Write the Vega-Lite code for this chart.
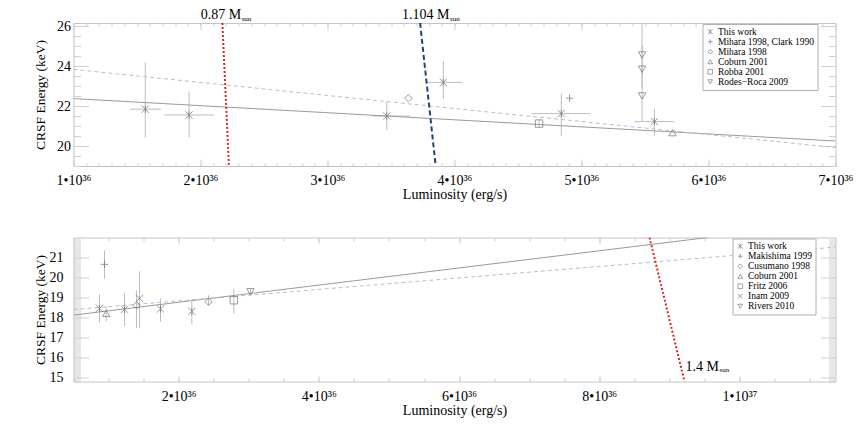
{
  "$schema": "https://vega.github.io/schema/vega-lite/v6.json",
  "padding": {"left": 32.5, "top": 7, "right": 5, "bottom": 5},
  "background": "white",
  "spacing": 34.5,
  "datasets": {
    "top_pts": [
      {"series": "This work", "x": 1.565, "y": 21.84, "xlo": 1.445, "xhi": 1.688, "ylo": 20.42, "yhi": 24.18},
      {"series": "This work", "x": 1.91, "y": 21.55, "xlo": 1.714, "xhi": 2.107, "ylo": 20.42, "yhi": 22.72},
      {"series": "This work", "x": 3.467, "y": 21.5, "xlo": 3.347, "xhi": 3.651, "ylo": 20.8, "yhi": 22.22},
      {"series": "This work", "x": 3.912, "y": 23.18, "xlo": 3.77, "xhi": 4.06, "ylo": 22.34, "yhi": 24.26},
      {"series": "This work", "x": 4.841, "y": 21.62, "xlo": 4.61, "xhi": 5.07, "ylo": 20.49, "yhi": 22.62},
      {"series": "This work", "x": 5.574, "y": 21.22, "xlo": 5.417, "xhi": 5.73, "ylo": 20.49, "yhi": 21.84},
      {"series": "Mihara 1998, Clark 1990", "x": 4.906, "y": 22.39},
      {"series": "Mihara 1998", "x": 3.637, "y": 22.39},
      {"series": "Coburn 2001", "x": 5.717, "y": 20.67},
      {"series": "Robba 2001", "x": 4.666, "y": 21.12, "ylo": 20.95, "yhi": 21.3},
      {"series": "Rodes−Roca 2009", "x": 5.477, "y": 24.55, "ylo": 23.6, "yhi": 26.15},
      {"series": "Rodes−Roca 2009", "x": 5.477, "y": 23.84, "ylo": 22.9, "yhi": 25.0},
      {"series": "Rodes−Roca 2009", "x": 5.477, "y": 22.5, "ylo": 21.2, "yhi": 23.8}
    ],
    "top_lines": [
      {"id": "fit", "x": 1, "y": 22.37}, {"id": "fit", "x": 7, "y": 20.25},
      {"id": "prev", "x": 1, "y": 23.83}, {"id": "prev", "x": 7, "y": 19.92},
      {"id": "m087", "x": 2.172, "y": 26.15}, {"id": "m087", "x": 2.224, "y": 19},
      {"id": "m1104", "x": 3.729, "y": 26.15}, {"id": "m1104", "x": 3.852, "y": 19}
    ],
    "top_lbl": [
      {"x": 2.32, "y": 26.15, "t": "0.87 M", "s": "sun"},
      {"x": 3.96, "y": 26.15, "t": "1.104 M", "s": "sun"}
    ],
    "bot_pts": [
      {"series": "This work", "x": 0.871, "y": 18.45, "ylo": 17.75, "yhi": 19.15},
      {"series": "Makishima 1999", "x": 0.942, "y": 20.64, "ylo": 19.93, "yhi": 21.33},
      {"series": "Coburn 2001", "x": 0.966, "y": 18.2, "ylo": 17.8, "yhi": 18.55},
      {"series": "This work", "x": 1.228, "y": 18.4, "ylo": 17.55, "yhi": 19.2},
      {"series": "Cusumano 1998", "x": 1.4, "y": 18.6, "ylo": 17.46, "yhi": 19.35},
      {"series": "Inam 2009", "x": 1.442, "y": 18.95, "ylo": 17.45, "yhi": 20.3},
      {"series": "This work", "x": 1.741, "y": 18.42, "ylo": 17.78, "yhi": 18.94},
      {"series": "This work", "x": 2.188, "y": 18.3, "ylo": 17.65, "yhi": 18.8},
      {"series": "Cusumano 1998", "x": 2.426, "y": 18.78, "ylo": 18.6, "yhi": 19.1},
      {"series": "Fritz 2006", "x": 2.787, "y": 18.85, "ylo": 18.19, "yhi": 19.43},
      {"series": "Rivers 2010", "x": 3.025, "y": 19.27, "ylo": 19.1, "yhi": 19.45}
    ],
    "bot_lines": [
      {"id": "fit", "x": 0.5, "y": 18.11}, {"id": "fit", "x": 9.55, "y": 21.98},
      {"id": "prev", "x": 0.5, "y": 18.39}, {"id": "prev", "x": 11.37, "y": 21.5},
      {"id": "m14", "x": 8.717, "y": 21.98}, {"id": "m14", "x": 9.216, "y": 14.8}
    ],
    "bot_lbl": [
      {"x": 9.707, "y": 15.33, "t": "1.4 M", "s": "sun"}
    ]
  },
  "vconcat": [
    {
      "width": 762,
      "height": 143,
      "resolve": {"axis": {"x": "independent", "y": "independent"}},
      "layer": [
        {
          "data": {"name": "top_pts"},
          "transform": [{"filter": "isValid(datum.xlo)"}],
          "mark": {"type": "rule", "color": "#bdbdbd", "strokeWidth": 1, "clip": true},
          "encoding": {
            "x": {"field": "xlo", "type": "quantitative", "scale": {"domain": [1, 7], "nice": false, "zero": false},
              "axis": {"orient": "bottom", "values": [1, 2, 3, 4, 5, 6, 7], "ticks": false, "labelExpr": "datum.value + '•10³⁶'", "labelPadding": 7, "title": "Luminosity (erg/s)", "titlePadding": 0}},
            "x2": {"field": "xhi"},
            "y": {"field": "y", "type": "quantitative", "scale": {"domain": [19, 26.15], "nice": false, "zero": false},
              "axis": {"orient": "left", "values": [20, 22, 24, 26], "ticks": false, "labelPadding": 3, "title": "CRSF Energy (keV)", "titlePadding": 9, "titleFontSize": 13.5}}
          }
        },
        {
          "data": {"name": "top_pts"},
          "transform": [{"filter": "isValid(datum.ylo)"}],
          "mark": {"type": "rule", "color": "#bdbdbd", "strokeWidth": 1, "clip": true},
          "encoding": {
            "x": {"field": "x", "type": "quantitative", "scale": {"domain": [1, 7], "nice": false, "zero": false},
              "axis": {"orient": "bottom", "values": [1, 2, 3, 4, 5, 6, 7], "labels": false, "tickSize": -7, "title": null}},
            "y": {"field": "ylo", "type": "quantitative", "scale": {"domain": [19, 26.15], "nice": false, "zero": false},
              "axis": {"orient": "left", "values": [20, 22, 24, 26], "labels": false, "tickSize": -15, "title": null}},
            "y2": {"field": "yhi"}
          }
        },
        {
          "data": {"name": "top_lines"},
          "transform": [{"filter": "datum.id == 'fit'"}],
          "mark": {"type": "line", "color": "#9a9a9a", "strokeWidth": 1, "clip": true},
          "encoding": {
            "x": {"field": "x", "type": "quantitative", "scale": {"domain": [1, 7], "nice": false, "zero": false},
              "axis": {"orient": "top", "values": [1, 2, 3, 4, 5, 6, 7], "labels": false, "tickSize": -7, "title": null}},
            "y": {"field": "y", "type": "quantitative", "scale": {"domain": [19, 26.15], "nice": false, "zero": false},
              "axis": {"orient": "right", "values": [20, 22, 24, 26], "labels": false, "tickSize": -15, "title": null}}
          }
        },
        {
          "data": {"name": "top_lines"},
          "transform": [{"filter": "datum.id == 'prev'"}],
          "mark": {"type": "line", "color": "#a9c1de", "strokeWidth": 1, "strokeDash": [4, 3], "clip": true},
          "encoding": {
            "x": {"field": "x", "type": "quantitative", "scale": {"domain": [1, 7], "nice": false, "zero": false},
              "axis": {"orient": "bottom", "tickCount": 60, "labels": false, "tickSize": -3, "title": null}},
            "y": {"field": "y", "type": "quantitative", "scale": {"domain": [19, 26.15], "nice": false, "zero": false},
              "axis": {"orient": "left", "tickCount": 14, "labels": false, "tickSize": -7, "title": null}}
          }
        },
        {
          "data": {"name": "top_lines"},
          "transform": [{"filter": "datum.id == 'm087'"}],
          "mark": {"type": "line", "color": "#d42a1e", "strokeWidth": 2, "strokeDash": [2, 2], "clip": true},
          "encoding": {
            "x": {"field": "x", "type": "quantitative", "scale": {"domain": [1, 7], "nice": false, "zero": false},
              "axis": {"orient": "top", "tickCount": 60, "labels": false, "tickSize": -3, "title": null}},
            "y": {"field": "y", "type": "quantitative", "scale": {"domain": [19, 26.15], "nice": false, "zero": false},
              "axis": {"orient": "right", "tickCount": 14, "labels": false, "tickSize": -7, "title": null}}
          }
        },
        {
          "data": {"name": "top_lines"},
          "transform": [{"filter": "datum.id == 'm1104'"}],
          "mark": {"type": "line", "color": "#1d4677", "strokeWidth": 2, "strokeDash": [5, 3], "clip": true},
          "encoding": {
            "x": {"field": "x", "type": "quantitative", "scale": {"domain": [1, 7], "nice": false, "zero": false}, "axis": null},
            "y": {"field": "y", "type": "quantitative", "scale": {"domain": [19, 26.15], "nice": false, "zero": false}, "axis": null}
          }
        },
        {
          "data": {"name": "top_pts"},
          "mark": {"type": "point", "filled": false, "stroke": "#707070", "strokeWidth": 1, "size": 55},
          "encoding": {
            "x": {"field": "x", "type": "quantitative", "scale": {"domain": [1, 7], "nice": false, "zero": false}, "axis": null},
            "y": {"field": "y", "type": "quantitative", "scale": {"domain": [19, 26.15], "nice": false, "zero": false}, "axis": null},
            "shape": {"field": "series", "type": "nominal",
              "scale": {"domain": ["This work", "Mihara 1998, Clark 1990", "Mihara 1998", "Coburn 2001", "Robba 2001", "Rodes−Roca 2009"],
                "range": ["M-1,-1L1,1M-1,1L1,-1M0,-1L0,1", "M-1,0L1,0M0,-1L0,1", "diamond", "triangle-up", "square", "triangle-down"]},
              "legend": {"legendX": 629, "legendY": 1, "rowPadding": -1.6}}
          }
        },
        {
          "data": {"name": "top_lbl"},
          "mark": {"type": "text", "align": "right", "baseline": "alphabetic", "dy": -4, "font": "Liberation Serif", "fontSize": 14, "color": "#000"},
          "encoding": {
            "x": {"field": "x", "type": "quantitative", "scale": {"domain": [1, 7], "nice": false, "zero": false}, "axis": null},
            "y": {"field": "y", "type": "quantitative", "scale": {"domain": [19, 26.15], "nice": false, "zero": false}, "axis": null},
            "text": {"field": "t"}
          }
        },
        {
          "data": {"name": "top_lbl"},
          "mark": {"type": "text", "align": "left", "baseline": "alphabetic", "dy": -2.5, "dx": 0.5, "font": "Liberation Serif", "fontSize": 7, "color": "#000"},
          "encoding": {
            "x": {"field": "x", "type": "quantitative", "scale": {"domain": [1, 7], "nice": false, "zero": false}, "axis": null},
            "y": {"field": "y", "type": "quantitative", "scale": {"domain": [19, 26.15], "nice": false, "zero": false}, "axis": null},
            "text": {"field": "s"}
          }
        }
      ]
    },
    {
      "width": 762,
      "height": 144,
      "resolve": {"axis": {"x": "independent", "y": "independent"}},
      "layer": [
        {
          "data": {"name": "bot_pts"},
          "transform": [{"filter": "isValid(datum.ylo)"}],
          "mark": {"type": "rule", "color": "#bdbdbd", "strokeWidth": 1, "clip": true},
          "encoding": {
            "x": {"field": "x", "type": "quantitative", "scale": {"domain": [0.5, 11.37], "nice": false, "zero": false},
              "axis": {"orient": "bottom", "values": [2, 4, 6, 8, 10], "ticks": false, "labelExpr": "datum.value >= 10 ? (datum.value / 10) + '•10³⁷' : datum.value + '•10³⁶'", "labelPadding": 7.5, "title": "Luminosity (erg/s)", "titlePadding": 0}},
            "y": {"field": "ylo", "type": "quantitative", "scale": {"domain": [14.8, 21.98], "nice": false, "zero": false},
              "axis": {"orient": "left", "values": [15, 16, 17, 18, 19, 20, 21], "ticks": false, "labelPadding": 10.5, "title": "CRSF Energy (keV)", "titlePadding": 1.5, "titleFontSize": 13.5}},
            "y2": {"field": "yhi"}
          }
        },
        {
          "data": {"name": "bot_lines"},
          "transform": [{"filter": "datum.id == 'fit'"}],
          "mark": {"type": "line", "color": "#9a9a9a", "strokeWidth": 1, "clip": true},
          "encoding": {
            "x": {"field": "x", "type": "quantitative", "scale": {"domain": [0.5, 11.37], "nice": false, "zero": false},
              "axis": {"orient": "bottom", "values": [2, 4, 6, 8, 10], "labels": false, "tickSize": -6, "title": null}},
            "y": {"field": "y", "type": "quantitative", "scale": {"domain": [14.8, 21.98], "nice": false, "zero": false},
              "axis": {"orient": "left", "values": [15, 16, 17, 18, 19, 20, 21], "labels": false, "tickSize": -15, "title": null}}
          }
        },
        {
          "data": {"name": "bot_lines"},
          "transform": [{"filter": "datum.id == 'prev'"}],
          "mark": {"type": "line", "color": "#a9c1de", "strokeWidth": 1, "strokeDash": [4, 3], "clip": true},
          "encoding": {
            "x": {"field": "x", "type": "quantitative", "scale": {"domain": [0.5, 11.37], "nice": false, "zero": false},
              "axis": {"orient": "top", "values": [2, 4, 6, 8, 10], "labels": false, "tickSize": -6, "title": null}},
            "y": {"field": "y", "type": "quantitative", "scale": {"domain": [14.8, 21.98], "nice": false, "zero": false},
              "axis": {"orient": "right", "values": [15, 16, 17, 18, 19, 20, 21], "labels": false, "tickSize": -15, "title": null}}
          }
        },
        {
          "data": {"name": "bot_lines"},
          "transform": [{"filter": "datum.id == 'm14'"}],
          "mark": {"type": "line", "color": "#d42a1e", "strokeWidth": 2, "strokeDash": [2, 2], "clip": true},
          "encoding": {
            "x": {"field": "x", "type": "quantitative", "scale": {"domain": [0.5, 11.37], "nice": false, "zero": false},
              "axis": {"orient": "bottom", "tickCount": 22, "labels": false, "tickSize": -3.5, "title": null}},
            "y": {"field": "y", "type": "quantitative", "scale": {"domain": [14.8, 21.98], "nice": false, "zero": false},
              "axis": {"orient": "left", "tickCount": 72, "labels": false, "tickSize": -7, "title": null}}
          }
        },
        {
          "data": {"name": "bot_pts"},
          "mark": {"type": "point", "filled": false, "stroke": "#707070", "strokeWidth": 1, "size": 55},
          "encoding": {
            "x": {"field": "x", "type": "quantitative", "scale": {"domain": [0.5, 11.37], "nice": false, "zero": false},
              "axis": {"orient": "top", "tickCount": 22, "labels": false, "tickSize": -3.5, "title": null}},
            "y": {"field": "y", "type": "quantitative", "scale": {"domain": [14.8, 21.98], "nice": false, "zero": false},
              "axis": {"orient": "right", "tickCount": 72, "labels": false, "tickSize": -7, "title": null}},
            "shape": {"field": "series", "type": "nominal",
              "scale": {"domain": ["This work", "Makishima 1999", "Cusumano 1998", "Coburn 2001", "Fritz 2006", "Inam 2009", "Rivers 2010"],
                "range": ["M-1,-1L1,1M-1,1L1,-1M0,-1L0,1", "M-1,0L1,0M0,-1L0,1", "diamond", "triangle-up", "square", "M-1,-1L1,1M-1,1L1,-1", "triangle-down"]},
              "legend": {"legendX": 659, "legendY": 1, "rowPadding": -1.2}}
          }
        },
        {
          "data": {"name": "bot_lbl"},
          "mark": {"type": "text", "align": "right", "baseline": "alphabetic", "font": "Liberation Serif", "fontSize": 14, "color": "#000"},
          "encoding": {
            "x": {"field": "x", "type": "quantitative", "scale": {"domain": [0.5, 11.37], "nice": false, "zero": false}, "axis": null},
            "y": {"field": "y", "type": "quantitative", "scale": {"domain": [14.8, 21.98], "nice": false, "zero": false}, "axis": null},
            "text": {"field": "t"}
          }
        },
        {
          "data": {"name": "bot_lbl"},
          "mark": {"type": "text", "align": "left", "baseline": "alphabetic", "dy": 1.5, "dx": 0.5, "font": "Liberation Serif", "fontSize": 7, "color": "#000"},
          "encoding": {
            "x": {"field": "x", "type": "quantitative", "scale": {"domain": [0.5, 11.37], "nice": false, "zero": false}, "axis": null},
            "y": {"field": "y", "type": "quantitative", "scale": {"domain": [14.8, 21.98], "nice": false, "zero": false}, "axis": null},
            "text": {"field": "s"}
          }
        }
      ]
    }
  ],
  "resolve": {"scale": {"shape": "independent", "x": "independent", "y": "independent"}, "legend": {"shape": "independent"}},
  "config": {
    "font": "Liberation Serif",
    "view": {"stroke": "#c4c4c4", "strokeWidth": 1},
    "axis": {
      "domain": false, "grid": false, "labelFlush": false,
      "labelFont": "Liberation Serif", "labelFontSize": 14, "labelColor": "#000",
      "titleFont": "Liberation Serif", "titleFontSize": 14, "titleFontWeight": "normal", "titleColor": "#000",
      "tickColor": "#cfcfcf", "tickWidth": 1
    },
    "legend": {
      "orient": "none", "title": null, "fillColor": "white", "strokeColor": "#b0b0b0", "padding": 3,
      "labelFont": "Liberation Serif", "labelFontSize": 9.5, "labelColor": "#000", "labelOffset": 3,
      "symbolSize": 22, "symbolStrokeColor": "#555", "symbolFillColor": "transparent", "symbolStrokeWidth": 0.8,
      "rowPadding": 0, "cornerRadius": 0
    }
  }
}
